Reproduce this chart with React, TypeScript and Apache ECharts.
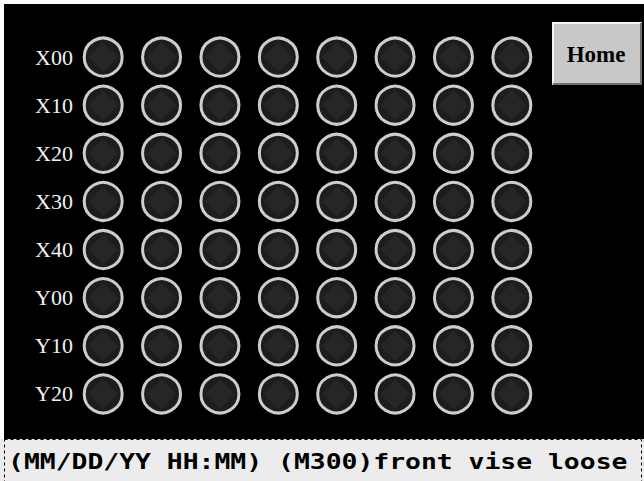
import React, { useEffect, useRef } from "react";
import * as echarts from "echarts";

const rowLabels = ["X00", "X10", "X20", "X30", "X40", "Y00", "Y10", "Y20"];
const colLabels = ["0", "1", "2", "3", "4", "5", "6", "7"];
// lamp states per row (0 = off), all off in the reference
const lampStates = [
  [0, 0, 0, 0, 0, 0, 0, 0],
  [0, 0, 0, 0, 0, 0, 0, 0],
  [0, 0, 0, 0, 0, 0, 0, 0],
  [0, 0, 0, 0, 0, 0, 0, 0],
  [0, 0, 0, 0, 0, 0, 0, 0],
  [0, 0, 0, 0, 0, 0, 0, 0],
  [0, 0, 0, 0, 0, 0, 0, 0],
  [0, 0, 0, 0, 0, 0, 0, 0],
];
const buttonLabel = "Home";
const statusMessage = "(MM/DD/YY HH:MM) (M300)front vise loose";

export default function App() {
  const ref = useRef<HTMLDivElement>(null);
  useEffect(() => {
    document.body.style.margin = "0";
    const chart = echarts.init(ref.current!, null, { renderer: "svg" });
    const data: any[] = [];
    lampStates.forEach((row, r) =>
      row.forEach((v, c) => data.push([colLabels[c], rowLabels[r], v]))
    );
    chart.setOption({
      animation: false,
      backgroundColor: "#ffffff",
      graphic: [
        { type: "rect", z: -10, shape: { x: 4, y: 4, width: 640, height: 435 }, style: { fill: "#000000" } },
        { type: "rect", z: -10, shape: { x: 0, y: 439, width: 644, height: 42 }, style: { fill: "#ececec" } },
        {
          type: "rect", z: -9,
          shape: { x: 4.5, y: 439.5, width: 637, height: 60 },
          style: { fill: "none", stroke: "#000000", lineWidth: 1, lineDash: [3, 3] },
        },
        {
          type: "text", x: 8, y: 461, scaleX: 1.2, z: 10,
          style: {
            text: statusMessage, x: 0, y: 0, fill: "#000000",
            font: "bold 22px 'DejaVu Sans Mono', monospace", verticalAlign: "middle", align: "left",
          },
        },
        { type: "rect", z: 5, shape: { x: 552, y: 22, width: 90, height: 63 }, style: { fill: "#c8c8c8" } },
        {
          type: "polyline", z: 6,
          shape: { points: [[553, 84], [553, 23], [641, 23]] },
          style: { stroke: "#f4f4f4", lineWidth: 2, fill: "none" },
        },
        {
          type: "polyline", z: 6,
          shape: { points: [[553, 84], [641, 84], [641, 23]] },
          style: { stroke: "#707070", lineWidth: 2, fill: "none" },
        },
        {
          type: "text", x: 596, y: 54, z: 7,
          style: {
            text: buttonLabel, fill: "#000000",
            font: "bold 23px 'Liberation Serif', serif", align: "center", verticalAlign: "middle",
          },
        },
      ],
      grid: { left: 74, top: 33, width: 467, height: 385 },
      xAxis: {
        type: "category", data: colLabels, boundaryGap: true,
        axisLine: { show: false }, axisTick: { show: false }, axisLabel: { show: false }, splitLine: { show: false },
      },
      yAxis: {
        type: "category", data: rowLabels, inverse: true, boundaryGap: true,
        axisLine: { show: false }, axisTick: { show: false }, splitLine: { show: false },
        axisLabel: {
          margin: 1, color: "#f0f0f0", fontSize: 22,
          fontFamily: "'Liberation Serif', serif",
        },
      },
      series: [
        {
          type: "scatter",
          data,
          symbol: "circle",
          symbolSize: 38,
          itemStyle: { color: "#1d1d1d", borderColor: "#cdcdcd", borderWidth: 3, opacity: 1 },
          emphasis: { disabled: true },
        },
        {
          type: "scatter",
          data,
          symbol: "diamond",
          symbolSize: 30,
          silent: true,
          itemStyle: { color: "#262626", opacity: 1 },
          z: 3,
        },
      ],
    });
    return () => chart.dispose();
  }, []);
  return <div ref={ref} style={{ width: 644, height: 481 }} />;
}
